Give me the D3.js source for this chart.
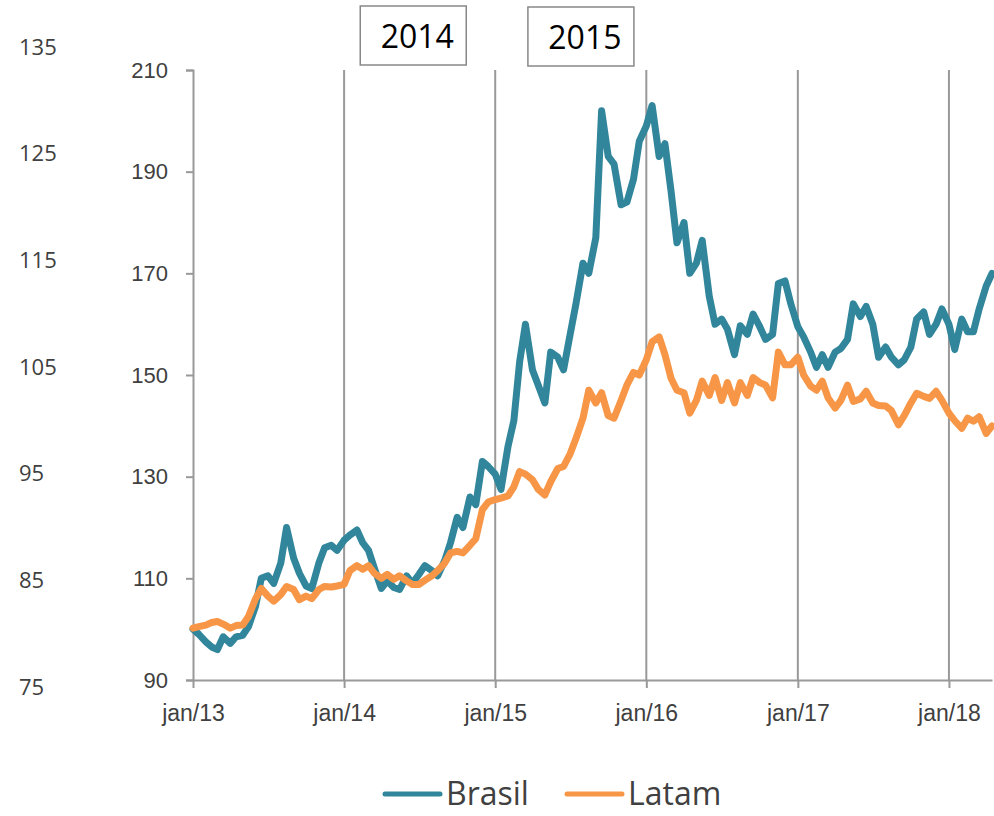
<!DOCTYPE html>
<html>
<head>
<meta charset="utf-8">
<script src="https://cdn.jsdelivr.net/npm/d3@7"></script>
<style>
  body { margin: 0; background: #fff; }
  svg { font-family: "Open Sans", sans-serif; }
  .axis text { fill: #404040; font-size: 22px; }
  .axis path, .axis line { stroke: #999; stroke-width: 2; }
</style>
</head>
<body>
<div class="root"></div>
<script>
// half-month samples, 1st and 15th of each month, jan/13 .. apr/18
var startMonth = '2013-01-01';
var endMonth = '2018-04-01';

var brasil = [
  100, 99, 97.5, 96.5, 96, 98.5, 97.2, 98.5, 98.8, 100.5,
  104.5, 110, 110.5, 109, 113, 120, 114, 111, 108.5, 108,
  113, 116, 116.5, 115.5, 117.5, 118.5, 119.5, 117, 115.5, 112,
  108, 109.5, 108.2, 107.8, 110.5, 109, 110.8, 112.5, 111.5, 110.5,
  113.5, 117, 122, 120, 126, 124.5, 133, 132, 130.5, 127.5,
  136, 141, 152.6, 160, 151, 148, 144.5, 154.5, 153.5, 151,
  158, 164, 172, 170, 177, 202, 193, 191.5, 183.5, 184,
  188.5, 196, 199, 203, 193, 195.5, 186, 176, 180, 170,
  172, 176.5, 165.5, 160, 161, 159, 154, 159.7, 158, 162,
  159.5, 157, 158, 168, 168.5, 164, 159.5, 157.5, 154.5, 151.5,
  154, 151.5, 154.5, 155.2, 157, 164, 161.5, 163.5, 160, 153.5,
  155.5, 153.5, 152, 153, 155.5, 161, 162.4, 158, 160, 163,
  160, 155, 161, 158.5, 158.5, 163, 167.5, 170
];

var latam = [
  100.2, 100.5, 100.8, 101.3, 101.5, 101, 100.2, 100.7, 100.8, 102.5,
  106, 108, 106.5, 105.5, 106.8, 108.4, 107.8, 105.8, 106.5, 106,
  107.8, 108.4, 108.3, 108.5, 108.8, 111.5, 112.5, 111.8, 112.5, 111,
  110, 110.8, 109.8, 110.5, 109.5, 108.8, 108.8, 109.6, 110.5, 111.5,
  113, 115, 115.3, 115, 116.5, 117.8, 123.5, 125, 125.5, 125.8,
  126.2, 128, 131, 130.5, 129.4, 127.5, 126.4, 129, 131.6, 132,
  134.5, 137.5, 141.5, 147, 144.5, 146.5, 142, 141.5, 145, 148,
  150.5, 150, 153, 156.5, 157.5, 154, 149.3, 147, 146.5, 142.5,
  145, 148.8, 146, 149.5, 145, 148.5, 144.5, 148.5, 146, 149.5,
  148.5, 148, 145.5, 154.5, 152, 152, 153.5, 150, 147.8, 147,
  148.8, 145.5, 143.5, 145, 148, 144.8, 145.3, 146.8, 144.5, 144,
  143.9, 143, 140.2, 142, 144.5, 146.4, 145.8, 145.4, 146.8, 145,
  142.5, 141, 139.5, 141.5, 140.9, 141.8, 138.5, 140
];

var leftTicks = [90, 110, 130, 150, 170, 190, 210];
var outerTicks = [75, 85, 95, 105, 115, 125, 135];
var yearTicks = ['2013-01-01', '2014-01-01', '2015-01-01', '2016-01-01', '2017-01-01', '2018-01-01'];
var boxLabels = ['2014', '2015'];
var boxDates = ['2014-06-17', '2015-07-27'];
var seriesNames = ['Brasil', 'Latam'];
var seriesColors = ['#31869b', '#f79646'];

var parse = d3.utcParse('%Y-%m-%d');

var dates = [];
d3.utcMonth.range(parse(startMonth), d3.utcMonth.offset(parse(endMonth), 1)).forEach(function(m) {
  dates.push(m);
  dates.push(d3.utcDay.offset(m, 14));
});

var w = 994, h = 816;
var svg = d3.select('.root').append('svg')
  .attr('width', w)
  .attr('height', h);

var x = d3.scaleUtc()
  .domain([parse('2013-01-01'), parse('2018-04-15')])
  .range([193, 992]);

var y = d3.scaleLinear().domain([90, 210]).range([680, 70]);
var yOuter = d3.scaleLinear().domain([75, 135]).range([687, 47]);

// vertical year lines
svg.append('g')
  .selectAll('line')
  .data(yearTicks.slice(1))
  .enter().append('line')
    .attr('x1', function(d) { return x(parse(d)); })
    .attr('x2', function(d) { return x(parse(d)); })
    .attr('y1', y(210))
    .attr('y2', y(90))
    .attr('stroke', '#999')
    .attr('stroke-width', 2);

// x axis
var fmt = d3.utcFormat('%y');
var xAxis = svg.append('g')
  .attr('class', 'axis')
  .attr('transform', 'translate(0,' + y(90) + ')')
  .call(d3.axisBottom(x)
    .tickValues(yearTicks.map(parse))
    .tickSize(8)
    .tickSizeOuter(0)
    .tickFormat(function(d) { return 'jan/' + fmt(d); }));
xAxis.selectAll('text')
  .attr('dy', '1.3em')
  .style('font-size', '23px');

// inner y axis
svg.append('g')
  .attr('class', 'axis')
  .attr('transform', 'translate(193,0)')
  .call(d3.axisLeft(y)
    .tickValues(leftTicks)
    .tickSize(7)
    .tickSizeOuter(7)
    .tickPadding(18));

// outer labels
svg.append('g')
  .attr('class', 'axis')
  .selectAll('text')
  .data(outerTicks)
  .enter().append('text')
    .attr('x', 19)
    .attr('y', function(d) { return yOuter(d); })
    .attr('dy', '0.35em')
    .text(function(d) { return d; });

// series lines
var series = [brasil, latam];
var line = d3.line()
  .x(function(d, i) { return x(dates[i]); })
  .y(function(d) { return y(d); });

svg.append('g')
  .selectAll('path')
  .data(series)
  .enter().append('path')
    .attr('d', line)
    .attr('fill', 'none')
    .attr('stroke', function(d, i) { return seriesColors[i]; })
    .attr('stroke-width', 7)
    .attr('stroke-linejoin', 'round')
    .attr('stroke-linecap', 'round');

// year boxes on top
var boxes = svg.append('g')
  .selectAll('g')
  .data(boxLabels)
  .enter().append('g')
    .attr('transform', function(d, i) { return 'translate(' + x(parse(boxDates[i])) + ',' + (i === 0 ? 36 : 37) + ')'; });

boxes.append('rect')
  .attr('x', -53)
  .attr('y', -30)
  .attr('width', 106)
  .attr('height', 59)
  .attr('fill', '#fff')
  .attr('stroke', '#888')
  .attr('stroke-width', 1.5);

boxes.append('text')
  .attr('x', 4)
  .attr('y', 1)
  .attr('dy', '0.35em')
  .attr('text-anchor', 'middle')
  .style('font-size', '32px')
  .style('fill', '#000')
  .text(function(d) { return d; });

// legend
var legend = svg.append('g')
  .selectAll('g')
  .data(seriesNames)
  .enter().append('g')
    .attr('transform', function(d, i) { return 'translate(' + (i === 0 ? 385 : 567) + ',794)'; });

legend.append('line')
  .attr('x1', 0)
  .attr('x2', 55)
  .attr('stroke', function(d, i) { return seriesColors[i]; })
  .attr('stroke-width', 5)
  .attr('stroke-linecap', 'round');

legend.append('text')
  .attr('x', 61)
  .attr('dy', '0.35em')
  .style('font-size', '32px')
  .style('fill', '#404040')
  .text(function(d) { return d; });
</script>
</body>
</html>
